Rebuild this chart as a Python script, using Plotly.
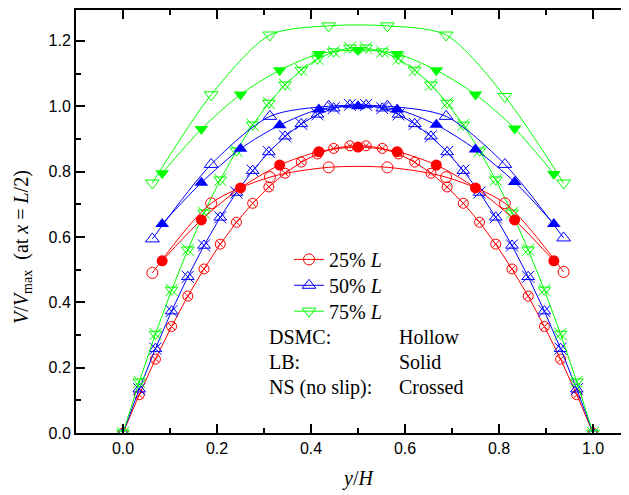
import plotly.graph_objects as go

# ---------------- data ----------------
dsmc_x = [0.0625, 0.1875, 0.3125, 0.4375, 0.5625, 0.6875, 0.8125, 0.9375]
dsmc_25 = [0.490, 0.703, 0.783, 0.813, 0.813, 0.783, 0.703, 0.493]
dsmc_50 = [0.594, 0.822, 0.969, 1.000, 1.000, 0.969, 0.822, 0.597]
dsmc_75 = [0.765, 1.035, 1.218, 1.246, 1.246, 1.218, 1.030, 0.765]

lb_x = [0.0833, 0.1667, 0.25, 0.3333, 0.4167, 0.5, 0.5833, 0.6667, 0.75, 0.8333, 0.9167]
lb_25 = [0.527, 0.652, 0.750, 0.820, 0.861, 0.875, 0.861, 0.820, 0.750, 0.652, 0.527]
lb_50 = [0.640, 0.766, 0.870, 0.942, 0.990, 1.000, 0.990, 0.943, 0.868, 0.768, 0.640]
lb_75 = [0.795, 0.930, 1.036, 1.110, 1.160, 1.172, 1.160, 1.110, 1.036, 0.932, 0.793]

ns_x = [0, 0.0345, 0.069, 0.1034, 0.1379, 0.1724, 0.2069, 0.2414, 0.2759, 0.3103,
        0.3448, 0.3793, 0.4138, 0.4483, 0.4828, 0.5172, 0.5517, 0.5862, 0.6207, 0.6552,
        0.6897, 0.7241, 0.7586, 0.7931, 0.8276, 0.8621, 0.8966, 0.931, 0.9655, 1.0]
ns_25 = [0, 0.117, 0.226, 0.326, 0.419, 0.502, 0.578, 0.645, 0.703, 0.753, 0.795, 0.829,
         0.854, 0.871, 0.879, 0.879, 0.871, 0.854, 0.829, 0.795, 0.753, 0.703, 0.645,
         0.578, 0.502, 0.419, 0.326, 0.226, 0.117, 0]
ns_50 = [0, 0.134, 0.258, 0.373, 0.478, 0.574, 0.660, 0.736, 0.803, 0.860, 0.908, 0.946,
         0.975, 0.994, 1.004, 1.004, 0.994, 0.975, 0.946, 0.908, 0.860, 0.803, 0.736,
         0.660, 0.574, 0.478, 0.373, 0.258, 0.134, 0]
ns_75 = [0, 0.157, 0.303, 0.438, 0.561, 0.674, 0.775, 0.864, 0.943, 1.010, 1.066, 1.111,
         1.145, 1.167, 1.179, 1.179, 1.167, 1.145, 1.111, 1.066, 1.010, 0.943, 0.864,
         0.775, 0.674, 0.561, 0.438, 0.303, 0.157, 0]

series_names = ["25% <i>L</i>", "50% <i>L</i>", "75% <i>L</i>"]
colors = ["#FF0000", "#0000FF", "#00FF00"]
symbols = ["circle", "triangle-up", "triangle-down"]

W, H = 629, 495
OFF = 8  # page offset of the figure (body margin)
# plot area in figure pixels
PL, PR, PT, PB = 76 - OFF, 629, 0, 433 - OFF
Y_PER_UNIT = 328.3
X_PER_UNIT = 470.0
x_lo = -0.1
x_hi = x_lo + (PR - PL) / X_PER_UNIT
y_hi = (PB - PT) / Y_PER_UNIT


def px_x(p):
    """page pixel -> paper x"""
    return (p - OFF - PL) / (PR - PL)


def px_y(p):
    """page pixel -> paper y"""
    return (PB - (p - OFF)) / (PB - PT)


SERIF = "Liberation Serif, Times New Roman, serif"
SANS = "Liberation Sans, Arial, sans-serif"

fig = go.Figure()

ns_all = [ns_25, ns_50, ns_75]
lb_all = [lb_25, lb_50, lb_75]
dsmc_all = [dsmc_25, dsmc_50, dsmc_75]

# NS (crossed)
for i in range(3):
    c = colors[i]
    if symbols[i] == "circle":
        fig.add_trace(go.Scatter(x=ns_x, y=ns_all[i], mode="lines+markers",
                                 line=dict(color=c, width=1),
                                 marker=dict(symbol="circle-x-open", size=10, color=c,
                                             line=dict(width=1, color=c)),
                                 showlegend=False))
    else:
        fig.add_trace(go.Scatter(x=ns_x, y=ns_all[i], mode="lines+markers",
                                 line=dict(color=c, width=1),
                                 marker=dict(symbol=symbols[i] + "-open", size=11, color=c,
                                             line=dict(width=1, color=c)),
                                 showlegend=False))
        fig.add_trace(go.Scatter(x=ns_x, y=ns_all[i], mode="markers",
                                 marker=dict(symbol="x-thin-open", size=12, color=c,
                                             line=dict(width=1, color=c)),
                                 showlegend=False))

# LB (solid)
for i in range(3):
    c = colors[i]
    fig.add_trace(go.Scatter(x=lb_x, y=lb_all[i], mode="lines+markers",
                             line=dict(color=c, width=1, shape="spline", smoothing=0.8),
                             marker=dict(symbol=symbols[i], size=11 if i == 0 else 12,
                                         color=c, line=dict(width=0)),
                             showlegend=False))

# DSMC (hollow)
legend_ids = ["legend", "legend2", "legend3"]
for i in range(3):
    c = colors[i]
    fig.add_trace(go.Scatter(x=dsmc_x, y=dsmc_all[i], mode="lines+markers",
                             name=series_names[i], legend=legend_ids[i],
                             line=dict(color=c, width=1, shape="spline", smoothing=0.8),
                             marker=dict(symbol=symbols[i] + "-open",
                                         size=11 if i == 0 else 12, color=c,
                                         line=dict(width=1, color=c)),
                             showlegend=True))

ann_font = dict(family=SERIF, size=20, color="black")
annotations = [
    dict(text="DSMC:", x=px_x(267), y=px_y(337)),
    dict(text="Hollow", x=px_x(397), y=px_y(337)),
    dict(text="LB:", x=px_x(267), y=px_y(362)),
    dict(text="Solid", x=px_x(397), y=px_y(362)),
    dict(text="NS (no slip):", x=px_x(267), y=px_y(387)),
    dict(text="Crossed", x=px_x(397), y=px_y(387)),
]
for a in annotations:
    fig.add_annotation(xref="paper", yref="paper", xanchor="left", yanchor="middle",
                       showarrow=False, font=ann_font, **a)

# axis titles
fig.add_annotation(xref="paper", yref="paper", x=px_x(358), y=px_y(479),
                   xanchor="center", yanchor="middle", showarrow=False,
                   text="<i>y</i>/<i>H</i>", font=ann_font)
fig.add_annotation(xref="paper", yref="paper", x=px_x(23), y=px_y(246),
                   xanchor="center", yanchor="middle", showarrow=False, textangle=-90,
                   text="<i>V</i>/<i>V</i><sub>max</sub>  (at <i>x</i> = <i>L</i>/2)",
                   font=ann_font)

axis_common = dict(showgrid=False, zeroline=False, showline=True, linewidth=2,
                   linecolor="black", ticks="inside", ticklen=9, tickwidth=1.5,
                   tickcolor="black", tickformat=".1f",
                   tickfont=dict(family=SANS, size=16, color="black"))

fig.update_xaxes(range=[x_lo, x_hi], tick0=0, dtick=0.2, mirror="ticks",
                 minor=dict(dtick=0.1, ticks="inside", ticklen=5, tickwidth=1.5,
                            tickcolor="black"),
                 **axis_common)
fig.update_yaxes(range=[0, y_hi], tick0=0, dtick=0.2, mirror=False,
                 minor=dict(dtick=0.1, ticks="inside", ticklen=5, tickwidth=1.5,
                            tickcolor="black"),
                 **axis_common)

legend_style = dict(xanchor="left", yanchor="top", bgcolor="rgba(0,0,0,0)",
                    borderwidth=0, font=dict(family=SERIF, size=20, color="black"))
legend_centers = [257, 283, 309]
LEG_X = 289
fig.update_layout(
    width=W, height=H,
    margin=dict(l=PL, r=W - PR, t=PT, b=H - PB, pad=0),
    paper_bgcolor="white", plot_bgcolor="white",
    showlegend=True,
    legend=dict(x=px_x(LEG_X), y=px_y(legend_centers[0] - 18), **legend_style),
    legend2=dict(x=px_x(LEG_X), y=px_y(legend_centers[1] - 18), **legend_style),
    legend3=dict(x=px_x(LEG_X), y=px_y(legend_centers[2] - 18), **legend_style),
)

fig.write_html("out.html")
